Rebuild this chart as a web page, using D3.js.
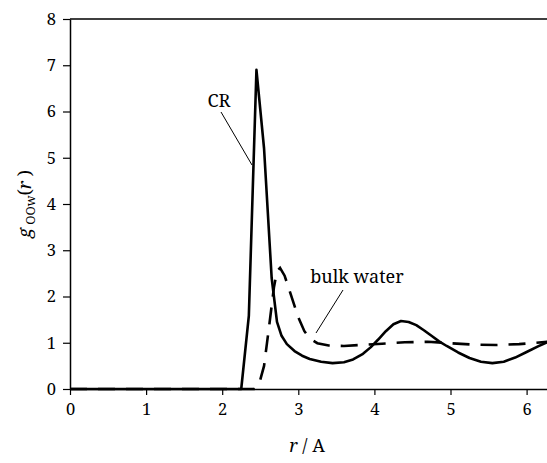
<!DOCTYPE html>
<html>
<head>
<meta charset="utf-8">
<script src="https://cdn.jsdelivr.net/npm/d3@7"></script>
<style>
  body { margin: 0; background: #fff; }
</style>
</head>
<body>
<div id="chart"></div>
<script>
'use strict';
// g(r) data
const crR = [0, 1, 2, 2.25, 2.35, 2.45, 2.55, 2.65, 2.72, 2.78, 2.85, 2.95, 3.05, 3.15, 3.3, 3.45, 3.6, 3.72, 3.85, 3.95, 4.05, 4.15, 4.25, 4.35, 4.45, 4.55, 4.65, 4.75, 4.85, 4.95, 5.1, 5.25, 5.4, 5.55, 5.7, 5.85, 6.0, 6.15, 6.28]
const crG = [0, 0, 0, 0, 1.58, 6.9, 5.2, 2.4, 1.45, 1.15, 0.97, 0.82, 0.72, 0.65, 0.59, 0.56, 0.58, 0.64, 0.76, 0.9, 1.07, 1.25, 1.4, 1.47, 1.45, 1.38, 1.27, 1.15, 1.03, 0.93, 0.79, 0.67, 0.59, 0.56, 0.59, 0.68, 0.8, 0.92, 1.02]
const bulkR = [0, 2.42, 2.48, 2.55, 2.62, 2.68, 2.72, 2.76, 2.82, 2.9, 3.0, 3.08, 3.16, 3.25, 3.4, 3.6, 3.8, 4.1, 4.4, 4.7, 5.0, 5.3, 5.6, 5.9, 6.28]
const bulkG = [0, 0, 0.08, 0.5, 1.4, 2.2, 2.55, 2.62, 2.45, 2.05, 1.55, 1.25, 1.08, 0.99, 0.94, 0.93, 0.95, 0.98, 1.01, 1.02, 0.99, 0.96, 0.95, 0.97, 1.02]
const xTicks = [0, 1, 2, 3, 4, 5, 6]
const yTicks = [0, 1, 2, 3, 4, 5, 6, 7, 8]

const W = 547, H = 463
const margin = { top: 19, right: 0, bottom: 74, left: 70 }
const x = d3.scaleLinear().domain([0, 6.28]).range([margin.left, margin.left + 6.28 * 76.1])
const y = d3.scaleLinear().domain([0, 8]).range([H - margin.bottom, margin.top])
const serif = "font-family:'Noto Serif';"

const svg = d3.select('#chart').append('svg')
  .attr('width', W)
  .attr('height', H)

// plot frame (top + right)
svg.append('path')
  .attr('d', `M${x(0)},${y(8)} H${x(6.28)} V${y(0)}`)
  .attr('fill', 'none')
  .attr('stroke', '#000')
  .attr('stroke-width', 1.5)

// axes
const xAxis = svg.append('g')
  .attr('transform', `translate(0,${y(0)})`)
  .call(d3.axisBottom(x).tickValues(xTicks).tickFormat(d3.format('d')).tickSize(6).tickPadding(8).tickSizeOuter(0))
const yAxis = svg.append('g')
  .attr('transform', `translate(${x(0)},0)`)
  .call(d3.axisLeft(y).tickValues(yTicks).tickFormat(d3.format('d')).tickSize(7).tickPadding(7).tickSizeOuter(0))
for (const ax of [xAxis, yAxis]) {
  ax.attr('font-family', null).attr('font-size', null)
  ax.select('.domain').attr('stroke-width', 1.5)
  ax.selectAll('.tick line').attr('stroke-width', 1.2)
  ax.selectAll('text').attr('fill', '#000').attr('style', serif + 'font-size:16.5px')
}

// curves
const line = (rs, gs) => d3.line()
  .x(i => x(rs[i]))
  .y(i => y(gs[i]))(d3.range(rs.length))

svg.append('path')
  .attr('d', line(bulkR, bulkG))
  .attr('fill', 'none')
  .attr('stroke', '#000')
  .attr('stroke-width', 2.6)
  .attr('stroke-dasharray', '17,11')

svg.append('path')
  .attr('d', line(crR, crG))
  .attr('fill', 'none')
  .attr('stroke', '#000')
  .attr('stroke-width', 2.6)
  .attr('stroke-linejoin', 'round')

const label = serif + 'font-size:18px'

// labels with leader lines
svg.append('text')
  .attr('x', 219).attr('y', 107)
  .attr('text-anchor', 'middle')
  .attr('style', label)
  .text('CR')
svg.append('line')
  .attr('x1', 221).attr('y1', 112)
  .attr('x2', 252).attr('y2', 165)
  .attr('stroke', '#000').attr('stroke-width', 1)

svg.append('text')
  .attr('x', 357).attr('y', 283)
  .attr('text-anchor', 'middle')
  .attr('style', label)
  .text('bulk water')
svg.append('line')
  .attr('x1', 343).attr('y1', 290)
  .attr('x2', 316).attr('y2', 333)
  .attr('stroke', '#000').attr('stroke-width', 1)

// axis titles
const xt = svg.append('text')
  .attr('x', 307).attr('y', 452)
  .attr('text-anchor', 'middle')
  .attr('style', label)
xt.append('tspan').attr('font-style', 'italic').text('r')
xt.append('tspan').text(' / A')

const yt = svg.append('text')
  .attr('transform', `translate(31,${y(4)}) rotate(-90)`)
  .attr('text-anchor', 'middle')
  .attr('style', label)
yt.append('tspan').attr('font-style', 'italic').text('g')
yt.append('tspan').attr('style', 'font-size:12.5px').attr('dy', 4).text(' OOw')
yt.append('tspan').attr('dy', -4).text('(')
yt.append('tspan').attr('font-style', 'italic').text('r')
yt.append('tspan').text(' )')
</script>
</body>
</html>
